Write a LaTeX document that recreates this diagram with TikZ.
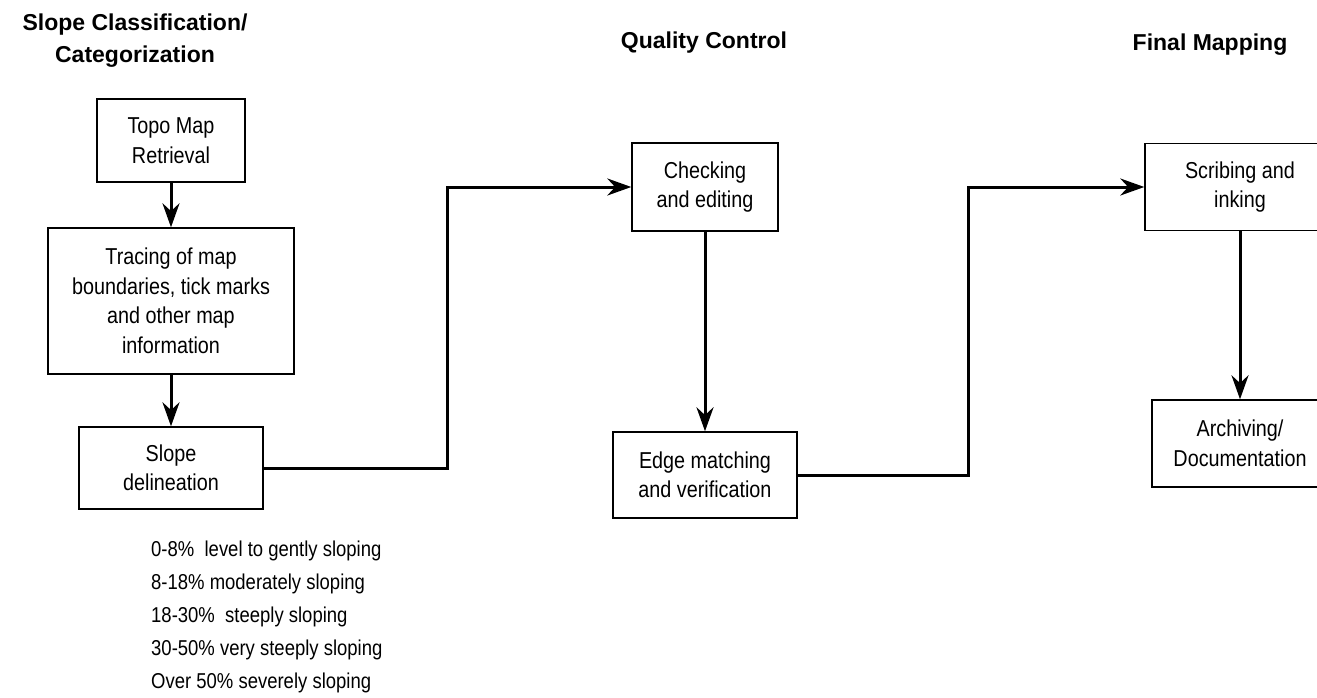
\documentclass[tikz,border=0pt]{standalone}
\usepackage{fontspec}
\setmainfont{Liberation Sans}
\newfontfamily\narrowfont[FakeStretch=0.86]{Liberation Sans}
\usetikzlibrary{arrows.meta}

\tikzstyle{heading}=[font=\bfseries\fontsize{23}{32}\selectfont,align=center]
\tikzstyle{box}=[draw=black,line width=1.4pt,align=center,inner sep=0pt,
  font=\narrowfont\fontsize{23}{29.5}\selectfont]
\tikzset{flow/.style={draw=black,line width=3pt,
  -{Stealth[length=24pt,width=17pt]}}}
\tikzstyle{classes}=[align=left,anchor=west,inner sep=0pt,
  font=\narrowfont\fontsize{21.5}{33}\selectfont]

\begin{document}
\begin{tikzpicture}[x=1pt,y=-1pt]

   \useasboundingbox (0,0) rectangle (1317,698);
   \clip (0,0) rectangle (1317,698);

   % column headings
   \node[heading] (hslope) at (135,41) {Slope Classification/\\Categorization};
   \node[heading] (hqual) at (704,43) {Quality Control};
   \node[heading] (hfinal) at (1210,45) {Final Mapping};

   % slope classification
   \node[box,minimum width=148pt,minimum height=83pt] (topo) at (171,140.5)
      {Topo Map\\Retrieval};
   \node[box,minimum width=246pt,minimum height=146pt] (trace) at (171,301)
      {Tracing of map\\boundaries, tick marks\\and other map\\information};
   \node[box,minimum width=184pt,minimum height=82pt] (slope) at (171,468)
      {Slope\\delineation};

   \node[classes] (legend) at (151,617)
      {0-8\%\ \ level to gently sloping\\8-18\% moderately sloping\\
       18-30\%\ \ steeply sloping\\30-50\% very steeply sloping\\
       Over 50\% severely sloping};

   % quality control
   \node[box,minimum width=146pt,minimum height=88pt] (check) at (705,187)
      {Checking\\and editing};
   \node[box,minimum width=184pt,minimum height=86pt] (edge) at (705,475)
      {Edge matching\\and verification};

   % final mapping
   \node[box,minimum width=190pt,minimum height=87pt] (scribe) at (1240,187)
      {Scribing and\\inking};
   \node[box,minimum width=176pt,minimum height=87pt] (archive) at (1240,443.5)
      {Archiving/\\Documentation};

   \coordinate (turn1) at (447,300);
   \coordinate (turn2) at (968,300);

   \draw[flow] (topo) -- (trace);
   \draw[flow] (trace) -- (slope);
   \draw[flow] (slope.east) -| (turn1) |- (check.west);
   \draw[flow] (check) -- (edge);
   \draw[flow] (edge.east) -| (turn2) |- (scribe.west);
   \draw[flow] (scribe) -- (archive);

\end{tikzpicture}
\end{document}
